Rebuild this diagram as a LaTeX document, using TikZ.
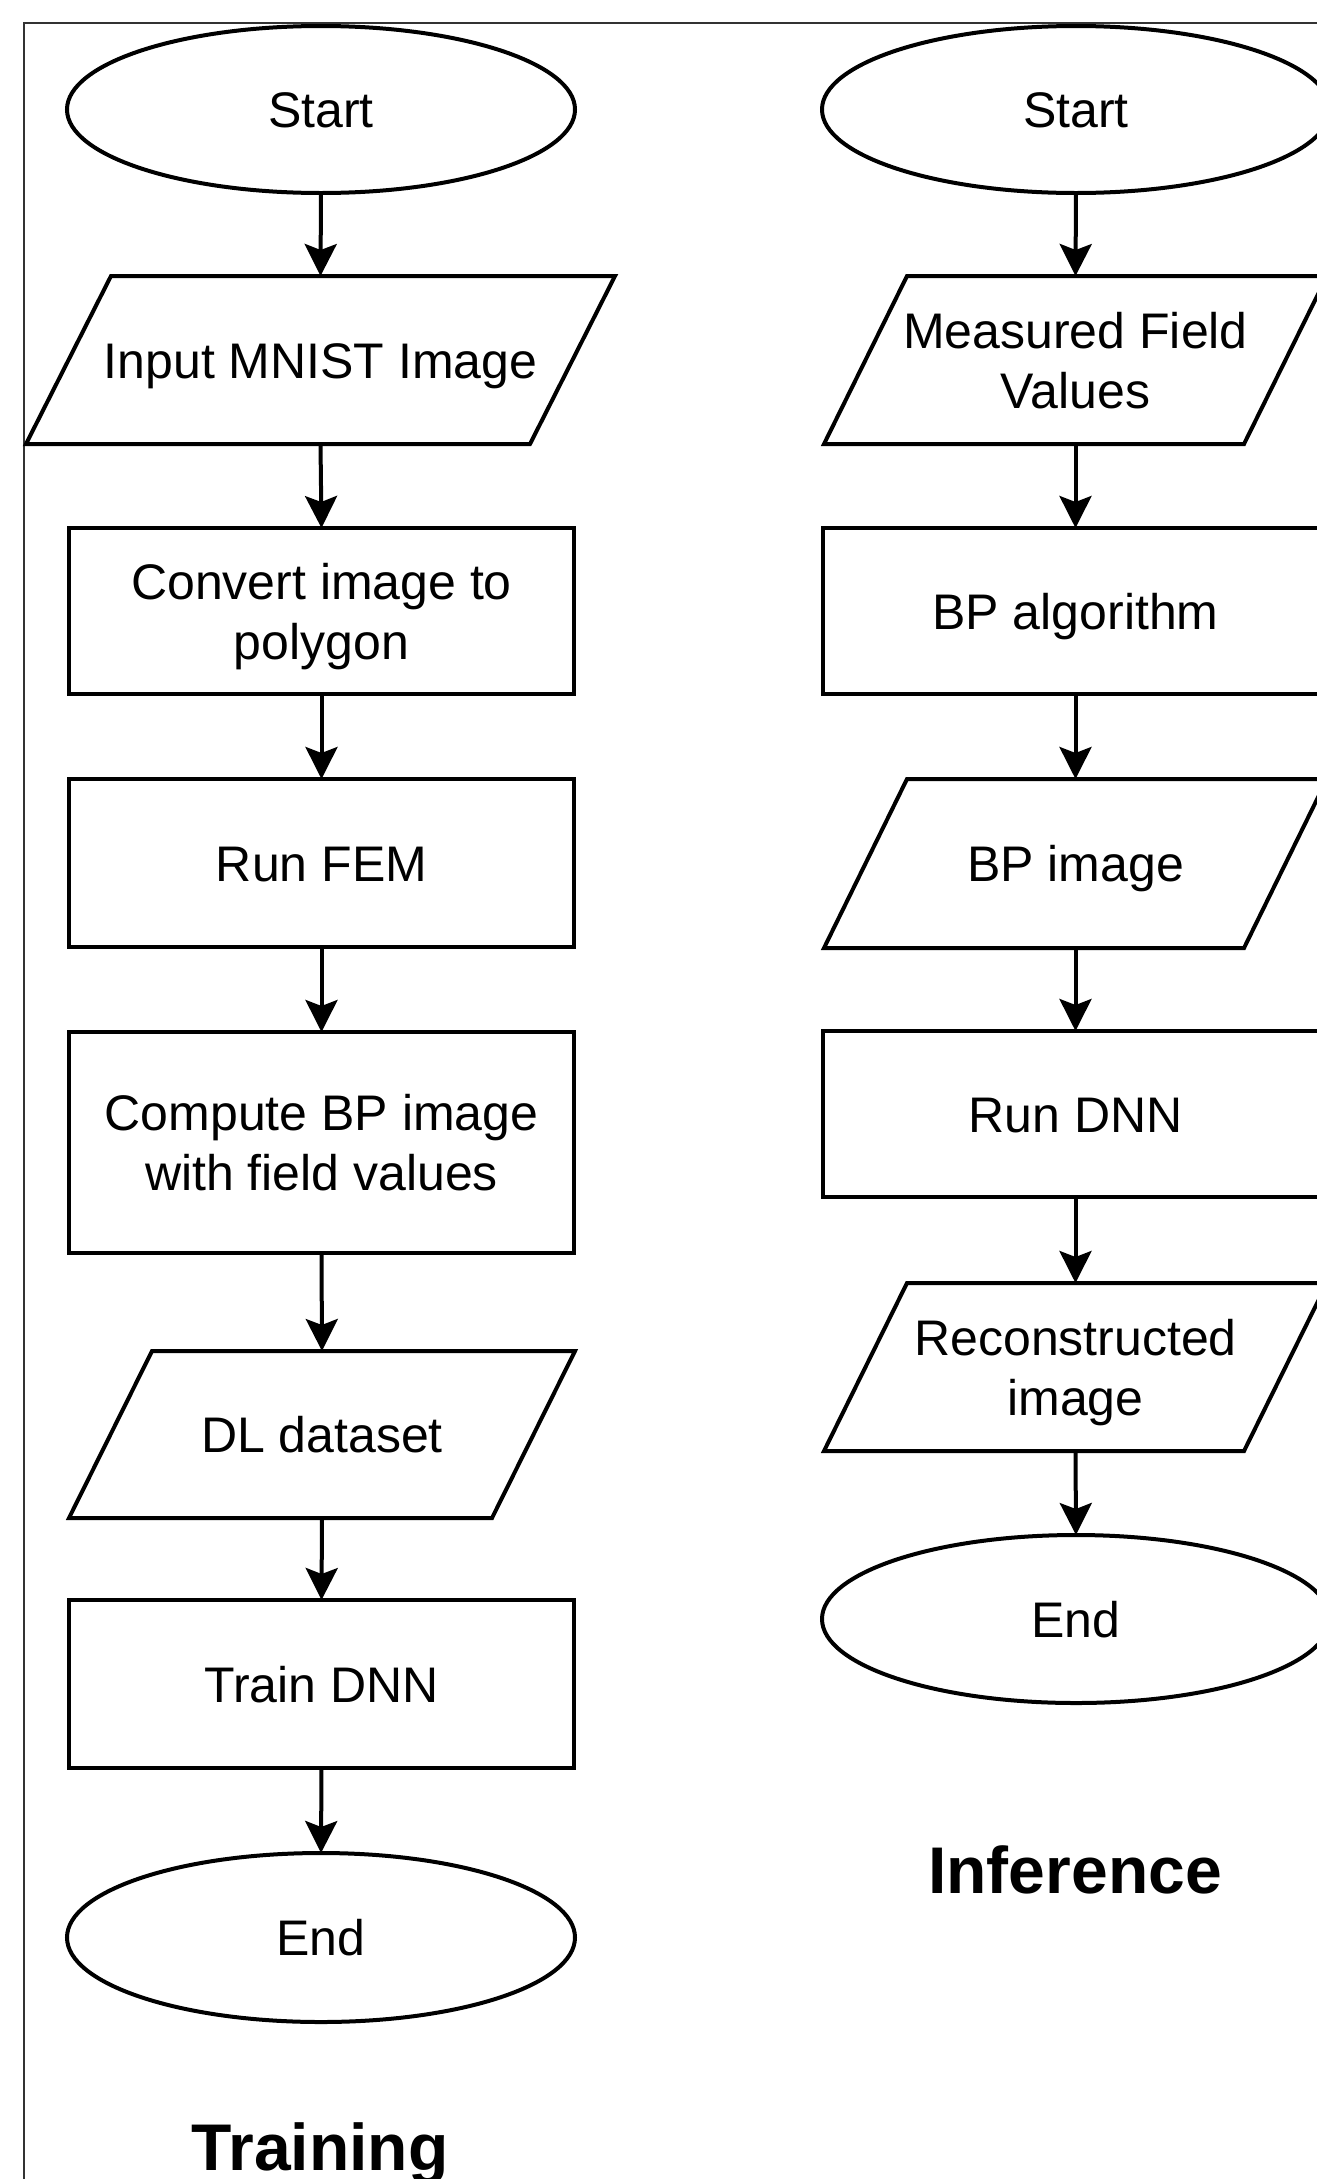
\documentclass[tikz,border=0pt]{standalone}
\usepackage{fontspec}
\setmainfont{Liberation Sans}
\usetikzlibrary{arrows.meta,shapes.geometric}
\tikzset{
  lbl/.style={font=\fontsize{50pt}{60pt}\selectfont, text=black, align=center,
              inner sep=0pt, outer sep=0pt},
  oneline/.style={lbl, text height=36pt, text depth=0pt},
  twoline/.style={lbl, text height=96pt, text depth=0pt},
  outl/.style={draw=black, line width=4pt},
  boxnode/.style={outl, rectangle, minimum width=505pt},
  ovalnode/.style={outl, ellipse, minimum width=508pt, minimum height=167pt},
  paranode/.style={rectangle, draw=none},
  arr/.style={line width=4pt, -{Stealth[length=32pt,width=32pt,inset=6pt]}},
  frameline/.style={draw=black!80, line width=2pt},
  title/.style={font=\fontsize{66pt}{79pt}\selectfont\bfseries, text=black,
                anchor=base, inner sep=0pt, outer sep=0pt}
}
\newcommand\drawpara[2]{%
  \draw[outl] (#1.south west) -- ([xshift=#2]#1.north west) -- (#1.north east)
    -- ([xshift=-#2]#1.south east) -- cycle;}
\begin{document}
\begin{tikzpicture}[x=1pt, y=-1pt]
\useasboundingbox (0,0) rectangle (1317,2179);
\fill[white] (0,0) rectangle (1317,2179);
\clip (0,0) rectangle (1317,2179);

% frame
\draw[frameline] (24,2200) -- (24,23) -- (1340,23);

% ---------------- Training column ----------------
\node[ovalnode, oneline] (s1) at (321,109.5) {Start};
\node[paranode, oneline, minimum width=589pt, minimum height=168pt] (inp) at (320.5,360) {Input MNIST Image};
\drawpara{inp}{85pt}
\node[boxnode, twoline, minimum height=166pt] (conv) at (321.5,611) {Convert image to\\polygon};
\node[boxnode, oneline, minimum height=168pt] (fem) at (321.5,863) {Run FEM};
\node[boxnode, twoline, minimum height=221pt] (comp) at (321.5,1142.5) {Compute BP image\\with field values};
\node[paranode, oneline, minimum width=506pt, minimum height=167pt] (dl) at (322,1434.5) {DL dataset};
\drawpara{dl}{83pt}
\node[boxnode, oneline, minimum height=168pt] (train) at (321.5,1684) {Train DNN};
\node[ovalnode, oneline, minimum height=169pt] (e1) at (321,1937.5) {End};
\node[title] (ttrain) at (320,2170) {Training};

\draw[arr] (s1.south) -- (inp.north);
\draw[arr] (inp.south) -- (conv.north);
\draw[arr] (conv.south) -- (fem.north);
\draw[arr] (fem.south) -- (comp.north);
\draw[arr] (comp.south) -- (dl.north);
\draw[arr] (dl.south) -- (train.north);
\draw[arr] (train.south) -- (e1.north);

% ---------------- Inference column ----------------
\node[ovalnode, oneline] (s2) at (1076,109.5) {Start};
\node[paranode, twoline, minimum width=503pt, minimum height=168pt] (meas) at (1075.5,360) {Measured Field\\Values};
\drawpara{meas}{83pt}
\node[boxnode, oneline, minimum height=166pt] (bpa) at (1075.5,611) {BP algorithm};
\node[paranode, oneline, minimum width=503pt, minimum height=169pt] (bpi) at (1075.5,863.5) {BP image};
\drawpara{bpi}{83pt}
\node[boxnode, oneline, minimum height=166pt] (dnn) at (1075.5,1114) {Run DNN};
\node[paranode, twoline, minimum width=503pt, minimum height=168pt] (rec) at (1075.5,1367) {Reconstructed\\image};
\drawpara{rec}{83pt}
\node[ovalnode, oneline, minimum height=168pt] (e2) at (1076,1619) {End};
\node[title] (tinf) at (1075,1893) {Inference};

\draw[arr] (s2.south) -- (meas.north);
\draw[arr] (meas.south) -- (bpa.north);
\draw[arr] (bpa.south) -- (bpi.north);
\draw[arr] (bpi.south) -- (dnn.north);
\draw[arr] (dnn.south) -- (rec.north);
\draw[arr] (rec.south) -- (e2.north);
\end{tikzpicture}
\end{document}
